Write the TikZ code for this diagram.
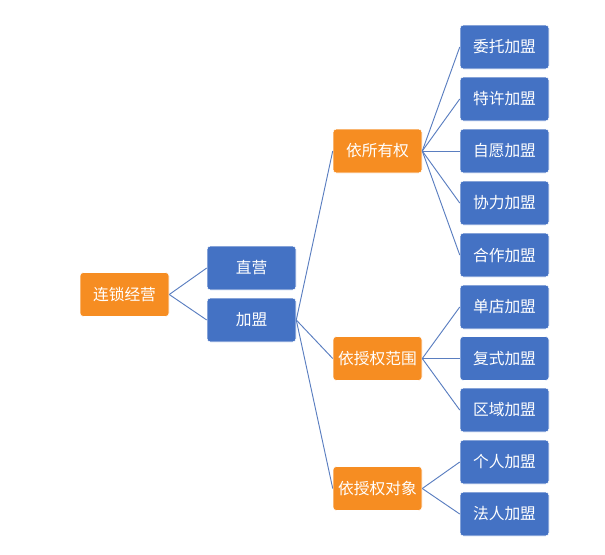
\documentclass[tikz,border=0pt]{standalone}
\usepackage{fontspec}
\newfontfamily\cjk{Noto Sans CJK SC}
\definecolor{jgorange}{HTML}{F68D22}
\definecolor{jgblue}{HTML}{4472C4}
\definecolor{jgline}{HTML}{5A7EC0}
\tikzset{
  caixa/.style={rounded corners=0.9mm,draw=white,line width=0.4pt,minimum width=66.75pt,minimum height=33pt,inner sep=0pt,
    font=\cjk\fontsize{11.8pt}{14pt}\selectfont,text=white},
  laranja/.style={caixa,fill=jgorange},
  azul/.style={caixa,fill=jgblue},
  ramo/.style={draw=jgline,line width=0.7pt},
}
\begin{document}
\begin{tikzpicture}[x=0.75pt,y=-0.75pt]
  \useasboundingbox (0,0) rectangle (605,554);
  % raiz e primeiro nivel
  \node[laranja] (raiz) at (124.5,294.5) {连锁经营};
  \node[azul] (direto) at (251.5,268) {直营};
  \node[azul] (franq) at (251.5,320) {加盟};
  % segundo nivel
  \node[laranja] (posse) at (377.5,151) {依所有权};
  \node[laranja] (ambito) at (377.5,358.5) {依授权范围};
  \node[laranja] (objeto) at (377.5,488.5) {依授权对象};
  % folhas
  \foreach \n/\y/\t in {wt/47/委托加盟,tx/99/特许加盟,zy/151/自愿加盟,xl/203/协力加盟,hz/255/合作加盟,
      dd/307/单店加盟,fs/358.5/复式加盟,qy/410/区域加盟,gr/462/个人加盟,fr/514/法人加盟}
    \node[azul] (\n) at (504.5,\y) {\t};
  % ligacoes
  \foreach \f in {direto,franq} \draw[ramo] (raiz.east) -- (\f.west);
  \foreach \f in {posse,ambito,objeto} \draw[ramo] (franq.east) -- (\f.west);
  \foreach \f in {wt,tx,zy,xl,hz} \draw[ramo] (posse.east) -- (\f.west);
  \foreach \f in {dd,fs,qy} \draw[ramo] (ambito.east) -- (\f.west);
  \foreach \f in {gr,fr} \draw[ramo] (objeto.east) -- (\f.west);
\end{tikzpicture}
\end{document}
